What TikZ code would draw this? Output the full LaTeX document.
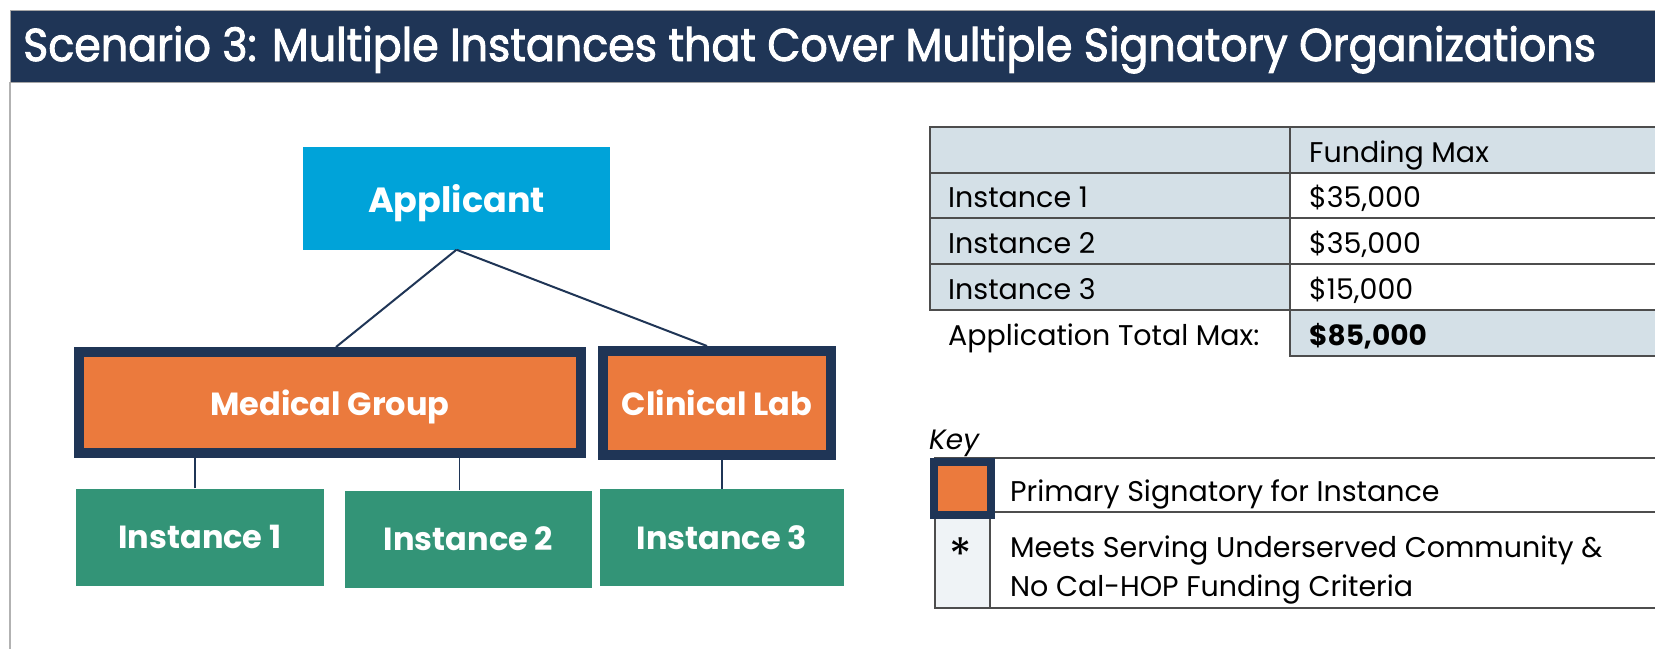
\documentclass[tikz,border=0pt]{standalone}
\usepackage{fontspec}
\setmainfont{Poppins}
\newfontfamily\titlefont[FakeBold=2,FakeStretch=0.93]{Poppins}
\usetikzlibrary{positioning}

\definecolor{navy}{HTML}{1F3556}
\definecolor{skyblue}{HTML}{00A3D9}
\definecolor{orangebox}{HTML}{EB7A3D}
\definecolor{greenbox}{HTML}{339477}
\definecolor{cellgray}{HTML}{D4E0E7}
\definecolor{keygray}{HTML}{EFF3F6}
\definecolor{gridline}{HTML}{4D4D4D}

\begin{document}
\begin{tikzpicture}[x=1pt,y=-1pt,
  orgbox/.style={text=white, inner sep=0pt, text depth=0pt, font=\bfseries\fontsize{32}{36}\selectfont},
  signatory/.style={orgbox, fill=orangebox, draw=navy, line width=10pt},
  instbox/.style={orgbox, fill=greenbox, minimum width=246pt, minimum height=97pt},
  link/.style={draw=navy, line width=2pt},
  celltext/.style={anchor=base west, inner sep=0pt, font=\fontsize{28.5}{32}\selectfont},
  grid/.style={draw=gridline, line width=1.5pt}]
  \useasboundingbox (0,0) rectangle (1655,649);

  % title band
  \fill[white] (0,0) rectangle (1655,649);
  \draw[gray!60, line width=1.5pt] (10,82) -- (10,649);
  \draw[fill=navy, draw=gray!70, line width=1pt] (10,10) rectangle (1670,82);
  \node[anchor=base west, text=white, inner sep=0pt, font=\titlefont\fontsize{46}{50}\selectfont] (title) at (23,61)
    {Scenario 3: Multiple Instances that Cover Multiple Signatory Organizations};

  % organisation chart
  \node[orgbox, fill=skyblue, minimum width=307pt, minimum height=103pt, font=\bfseries\fontsize{35}{40}\selectfont] (app) at (456.5,198) {Applicant};
  \node[signatory, minimum width=502pt, minimum height=101pt] (mg) at (330,402.5) {Medical Group};
  \node[signatory, minimum width=228pt, minimum height=104pt] (cl) at (717,403) {Clinical Lab};
  \node[instbox, minimum width=248pt] (inst1) at (200,537) {Instance 1};
  \node[instbox, minimum width=247pt] (inst2) at (468.5,539) {Instance 2};
  \node[instbox, minimum width=244pt] (inst3) at (722,537.5) {Instance 3};

  \draw[link] (app.south) -- ([xshift=6pt]mg.north);
  \draw[link] (app.south) -- ([xshift=-10pt]cl.north);
  \draw[link, line width=1.5pt] ([xshift=-5pt]inst1.north) -- ([xshift=-5pt]inst1.north |- mg.south);
  \draw[link, line width=1.5pt] ([xshift=-9pt]inst2.north) -- ([xshift=-9pt]inst2.north |- mg.south);
  \draw[link, line width=1.5pt] (inst3.north) -- (inst3.north |- cl.south);

  % funding table
  \fill[cellgray] (930,127) rectangle (1670,173);
  \fill[cellgray] (930,173) rectangle (1290,310);
  \fill[cellgray] (1290,310) rectangle (1670,356);
  \draw[grid] (1670,127) -- (930,127) -- (930,310) -- (1670,310);
  \foreach \y in {173,218,264}
    \draw[grid] (930,\y) -- (1670,\y);
  \draw[grid] (1290,127) -- (1290,356) -- (1670,356);

  \node[celltext] (fmax) at (1309,162) {Funding Max};
  \node[celltext] (row1) at (948,207) {Instance 1};
  \node[celltext] (row2) at (948,253) {Instance 2};
  \node[celltext] (row3) at (948,299) {Instance 3};
  \node[celltext] (val1) at (1309,207) {\$35,000};
  \node[celltext] (val2) at (1309,253) {\$35,000};
  \node[celltext] (val3) at (1309,299) {\$15,000};
  \node[celltext] (total) at (948,345) {Application Total Max:};
  \node[celltext, font=\bfseries\fontsize{28}{32}\selectfont] (totval) at (1309,345) {\$85,000};

  % key
  \node[celltext, font=\itshape\fontsize{28}{32}\selectfont] (key) at (929,449) {Key};
  \fill[keygray] (935,512) rectangle (990,608);
  \draw[grid] (1670,458) -- (935,458) -- (935,608) -- (1670,608);
  \draw[grid] (990,512) -- (1670,512);
  \draw[grid] (990,458) -- (990,608);
  \node[fill=orangebox, draw=navy, line width=8pt, minimum width=57pt, minimum height=53pt, inner sep=0pt] (keysq) at (962.5,488.5) {};
  \node[font=\fontsize{46}{50}\selectfont, inner sep=0pt] (star) at (961,555) {*};
  \node[celltext] (k1) at (1010,501) {Primary Signatory for Instance};
  \node[celltext] (k2) at (1010,557) {Meets Serving Underserved Community \&};
  \node[celltext] (k3) at (1010,596) {No Cal-HOP Funding Criteria};
\end{tikzpicture}
\end{document}
